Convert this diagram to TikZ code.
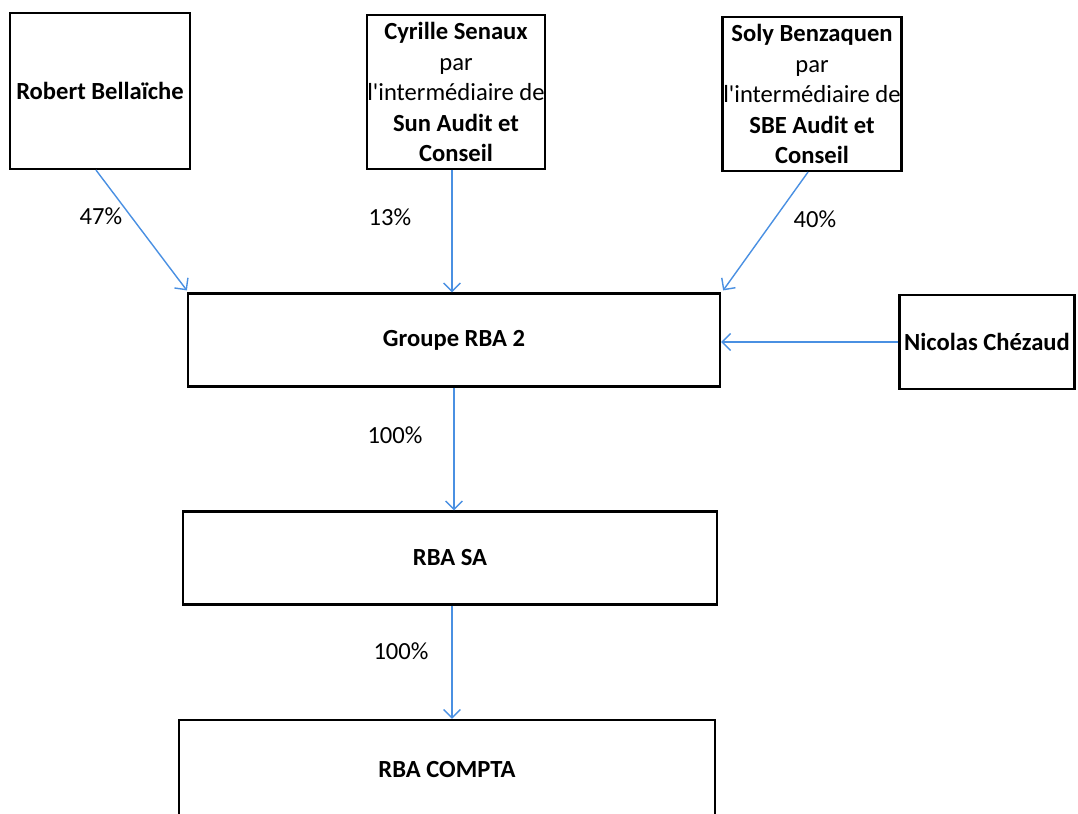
\documentclass[tikz,border=0pt]{standalone}
\usepackage{fontspec}
\setmainfont{Carlito}
\usetikzlibrary{arrows.meta}
\definecolor{linkblue}{RGB}{74,144,226}
\tikzset{
  box/.style={draw, line width=1.5pt, inner sep=0pt, align=center,
    font=\bfseries\fontsize{17.5}{21.7}\selectfont},
  share/.style={draw=linkblue, line width=1pt, -{Straight Barb[length=6pt,width=12pt]}},
  pct/.style={font=\fontsize{17.5}{21}\selectfont}
}
\begin{document}
\begin{tikzpicture}[x=0.025cm,y=-0.025cm]
  \useasboundingbox (0,0) rectangle (1078,814);
  % shareholders
  \node[box, minimum width=4.5cm, minimum height=3.9cm] (rb) at (100,91) {Robert Bellaïche};
  \node[box, minimum width=4.45cm, minimum height=3.85cm] (cs) at (456,92)
    {Cyrille Senaux\\{\mdseries par}\\{\mdseries l\textquotesingle intermédiaire de}\\Sun Audit et\\Conseil};
  \node[box, minimum width=4.475cm, minimum height=3.85cm] (sb) at (812,94)
    {Soly Benzaquen\\{\mdseries par}\\{\mdseries l\textquotesingle intermédiaire de}\\SBE Audit et\\Conseil};
  % companies
  \node[box, minimum width=13.3cm, minimum height=2.325cm] (grp) at (454,340) {Groupe RBA 2};
  \node[box, minimum width=4.375cm, minimum height=2.35cm] (nc) at (987,342) {Nicolas Chézaud};
  \node[box, minimum width=13.325cm, minimum height=2.325cm] (sa) at (450,558) {RBA SA};
  \node[box, minimum width=13.375cm, minimum height=2.5cm] (cpt) at (447,770) {RBA COMPTA};
  % percentages
  \node[pct] (p47) at (101,216) {47\%};
  \node[pct] (p13) at (390,217) {13\%};
  \node[pct] (p40) at (815,219) {40\%};
  \node[pct] (p100a) at (395,435) {100\%};
  \node[pct] (p100b) at (401,651) {100\%};
  % links
  \draw[share] ([xshift=-0.1cm]rb.south) -- ([yshift=0.05cm]grp.north west);
  \draw[share] ([xshift=-0.1cm]cs.south) -- ([xshift=-0.1cm]cs.south |- grp.north);
  \draw[share] ([xshift=-0.1cm]sb.south) -- ([xshift=0.05cm,yshift=0.05cm]grp.north east);
  \draw[share] (nc.west) -- (nc.west -| grp.east);
  \draw[share] (grp.south) -- (grp.south |- sa.north);
  \draw[share] ([xshift=0.05cm]sa.south) -- ([xshift=0.05cm]sa.south |- cpt.north);
\end{tikzpicture}
\end{document}
